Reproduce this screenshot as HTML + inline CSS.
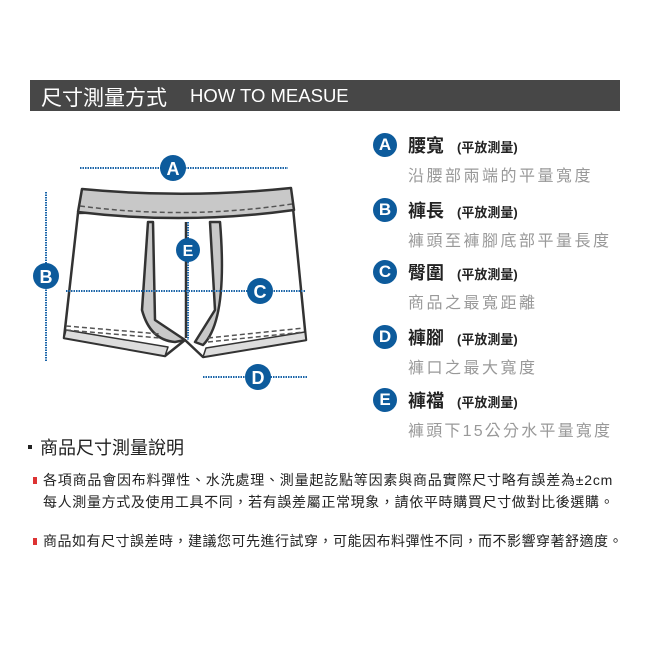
<!DOCTYPE html>
<html><head><meta charset="utf-8"><style>
body{margin:0;width:650px;height:650px;background:#fff;position:relative;overflow:hidden;font-family:"Liberation Sans","Noto Sans CJK TC",sans-serif}
.a{position:absolute;white-space:nowrap}
.hd{left:30px;top:80px;width:590px;height:31px;background:#474747;color:#fff}
.t{font-size:18px;color:#222;font-weight:bold}
.p{font-size:13px;color:#222;font-weight:bold}
.s{font-size:16px;color:#999;letter-spacing:2.5px}
.c{width:24px;height:24px;border-radius:50%;background:#0d5b9c;color:#fff;font-size:17px;font-weight:bold;text-align:center;line-height:24px}
.n{font-size:14px;color:#222}
.r{display:inline-block;width:4px;height:7px;background:#d33;margin-right:6px;vertical-align:1px}
</style></head><body>
<div class="a hd"><span class="a" style="left:11px;top:2px;font-size:21px">尺寸測量方式</span><span class="a" style="left:160px;top:5px;font-size:18.5px">HOW TO MEASUE</span></div>
<svg class="a" style="left:0;top:0" width="340" height="410">
<g stroke="#333" stroke-width="2.5" fill="#fff" stroke-linejoin="round">
<path d="M78 213 L64 338 L165 356 L185 340 L203 357 L306 340 L293 208 Z"/>
<path d="M66 330 L64 338 L165 356 L168 347 Z" fill="#ddd" stroke-width="1.5"/>
<path d="M203 357 L306 340 L305 332 L206 348 Z" fill="#ddd" stroke-width="1.5"/>
<path d="M82 189 Q186 199 291 188 L294 210 Q186 225 78 212 Z" fill="#c8c8c8"/>
<path d="M148 222 L142 310 Q150 340 175 342 L185 340 L155 320 L153 222 Z" fill="#c8c8c8"/>
<path d="M210 222 L215 310 L195 342 L203 345 Q228 320 220 222 Z" fill="#c8c8c8"/>
<path d="M186 222 L186 338" fill="none"/>
</g>
<g stroke="#555" stroke-width="1.5" stroke-dasharray="5,3" fill="none">
<path d="M80 206 Q186 220 292 204"/>
<path d="M66 326 L160 334"/><path d="M66 330 L160 338"/>
<path d="M208 338 L304 328"/><path d="M208 342 L304 332"/>
</g>
<g stroke="#1a64a8" stroke-width="2" stroke-dasharray="1.5,1" fill="none">
<path d="M80 168 H288"/><path d="M46 192 V361"/><path d="M66 291 H305"/><path d="M188 222 V340"/><path d="M203 377 H307"/>
</g>
<g fill="#0d5b9c"><circle cx="173" cy="168" r="13"/><circle cx="46" cy="276" r="13"/><circle cx="260" cy="291" r="13"/><circle cx="188" cy="250" r="12"/><circle cx="258" cy="377" r="13"/></g>
<g fill="#fff" font-size="18" font-weight="bold" text-anchor="middle" font-family="Liberation Sans,sans-serif">
<text x="173" y="175">A</text><text x="46" y="283">B</text><text x="260" y="298">C</text><text x="188" y="256" font-size="16">E</text><text x="258" y="384">D</text></g>
</svg>
<div class="a c" style="left:373px;top:133px">A</div><div class="a t" style="left:408px;top:132px">腰寬</div><div class="a p" style="left:457px;top:137px">(平放測量)</div><div class="a s" style="left:408px;top:162px">沿腰部兩端的平量寬度</div>
<div class="a c" style="left:373px;top:198px">B</div><div class="a t" style="left:408px;top:197px">褲長</div><div class="a p" style="left:457px;top:202px">(平放測量)</div><div class="a s" style="left:408px;top:227px">褲頭至褲腳底部平量長度</div>
<div class="a c" style="left:373px;top:260px">C</div><div class="a t" style="left:408px;top:259px">臀圍</div><div class="a p" style="left:457px;top:264px">(平放測量)</div><div class="a s" style="left:408px;top:289px">商品之最寬距離</div>
<div class="a c" style="left:373px;top:325px">D</div><div class="a t" style="left:408px;top:324px">褲腳</div><div class="a p" style="left:457px;top:329px">(平放測量)</div><div class="a s" style="left:408px;top:354px">褲口之最大寬度</div>
<div class="a c" style="left:373px;top:388px">E</div><div class="a t" style="left:408px;top:387px">褲襠</div><div class="a p" style="left:457px;top:392px">(平放測量)</div><div class="a s" style="left:408px;top:417px;letter-spacing:2.2px">褲頭下15公分水平量寬度</div>
<div class="a" style="left:28px;top:434px;font-size:18px;color:#222"><span style="display:inline-block;width:4px;height:4px;background:#222;vertical-align:5px;margin-right:8px"></span>商品尺寸測量說明</div>
<div class="a n" style="left:33px;top:470px;letter-spacing:0.8px"><span class="r"></span>各項商品會因布料彈性、水洗處理、測量起訖點等因素與商品實際尺寸略有誤差為±2cm</div>
<div class="a n" style="left:43px;top:492px;letter-spacing:0.65px">每人測量方式及使用工具不同，若有誤差屬正常現象，請依平時購買尺寸做對比後選購。</div>
<div class="a n" style="left:33px;top:531px;letter-spacing:0.5px"><span class="r"></span>商品如有尺寸誤差時，建議您可先進行試穿，可能因布料彈性不同，而不影響穿著舒適度。</div>
</body></html>
